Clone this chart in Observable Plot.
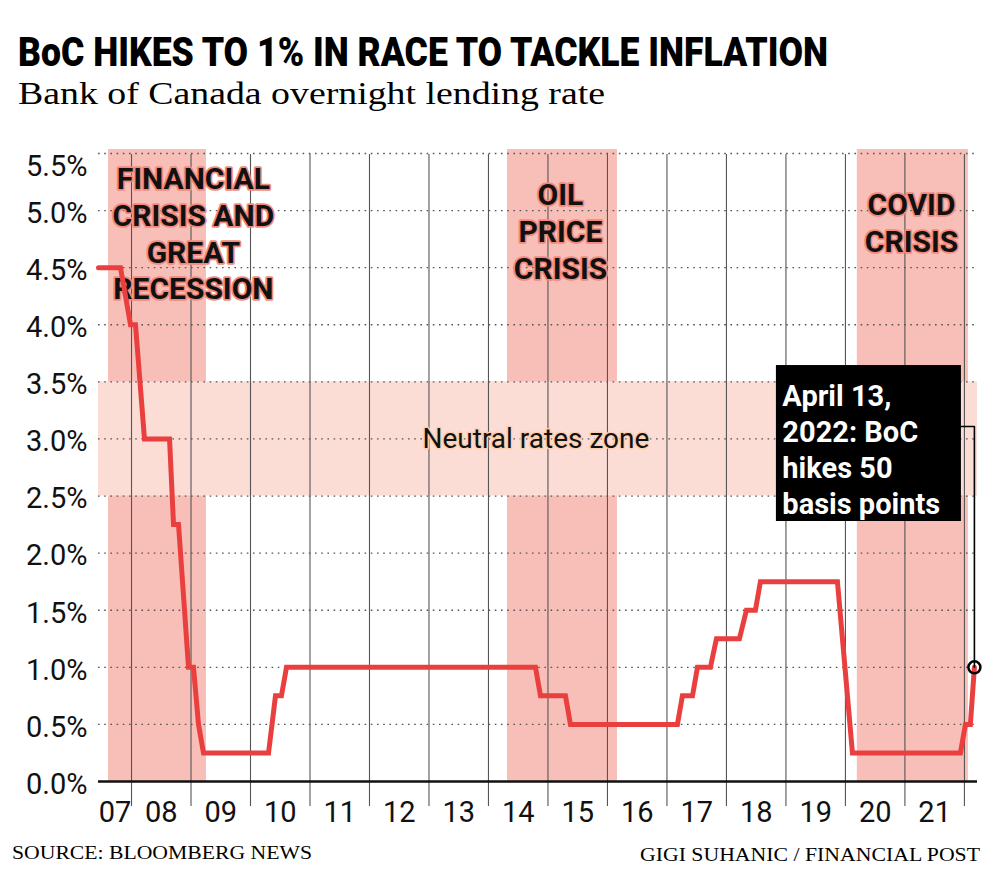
<!DOCTYPE html>
<html><head><meta charset="utf-8">
<script src="https://cdn.jsdelivr.net/npm/d3@7"></script>
<script src="https://cdn.jsdelivr.net/npm/@observablehq/plot@0.6"></script>
<style>
body{margin:0;background:#fff;}
#wrap{position:relative;width:1000px;height:884px;overflow:hidden;background:#fff;}
#head,#foot,#chart{position:absolute;left:0;}
#head{top:0}
#chart{top:130px}
#foot{top:835px}
</style></head><body>
<div id="wrap">
<svg id="head" width="1000" height="130">
  <text x="18" y="66" font-family="Roboto, sans-serif" font-weight="900" font-size="40" textLength="810" lengthAdjust="spacingAndGlyphs" fill="#000">BoC HIKES TO 1% IN RACE TO TACKLE INFLATION</text>
  <text x="18" y="104" font-family="'Liberation Serif', serif" font-size="32" textLength="587" lengthAdjust="spacingAndGlyphs" fill="#000">Bank of Canada overnight lending rate</text>
</svg>
<div id="chart"></div>
<svg id="foot" width="1000" height="49">
  <text x="12" y="24" font-family="'Liberation Serif', serif" font-size="19" textLength="300" lengthAdjust="spacingAndGlyphs" fill="#000">SOURCE: BLOOMBERG NEWS</text>
  <text x="980" y="26" text-anchor="end" font-family="'Liberation Serif', serif" font-size="19" textLength="340" lengthAdjust="spacingAndGlyphs" fill="#000">GIGI SUHANIC / FINANCIAL POST</text>
</svg>
</div>
<script>
// ---- data (decimal years) ----
const dates = [2007.445, 2007.815, 2007.983, 2008.067, 2008.218, 2008.639, 2008.706, 2008.790, 2008.958, 2009.042, 2009.126, 2009.21,
  2010.303, 2010.42, 2010.52, 2010.605, 2014.79, 2014.874, 2015.294, 2015.378, 2017.176, 2017.26, 2017.429, 2017.513,
  2017.731, 2017.832, 2018.218, 2018.336, 2018.487, 2018.571, 2019.866, 2020.118, 2021.933, 2022.017, 2022.10, 2022.168];
const rates = [4.5, 4.5, 4.0, 4.0, 3.0, 3.0, 2.25, 2.25, 1.0, 1.0, 0.5, 0.25,
  0.25, 0.75, 0.75, 1.0, 1.0, 0.75, 0.75, 0.5, 0.5, 0.75, 0.75, 1.0,
  1.0, 1.25, 1.25, 1.5, 1.5, 1.75, 1.75, 0.25, 0.25, 0.5, 0.5, 1.0];

const crisisNames = ["FINANCIAL\nCRISIS AND\nGREAT\nRECESSION", "OIL\nPRICE\nCRISIS", "COVID\nCRISIS"];
const crisisStart = [2007.613, 2014.32, 2020.20];
const crisisEnd = [2009.26, 2016.168, 2022.067];
const crisisLabelX = [2009.04, 2015.21, 2021.11];
const crisisLabelY = [4.81, 4.83, 4.90];

const neutralLow = 2.5, neutralHigh = 3.5;
const neutralLabel = "Neutral rates zone";

const yTicks = [0, 0.5, 1.0, 1.5, 2.0, 2.5, 3.0, 3.5, 4.0, 4.5, 5.0, 5.5];
const yearLines = [2008, 2009, 2010, 2011, 2012, 2013, 2014, 2015, 2016, 2017, 2018, 2019, 2020, 2021, 2022];
const yearLabels = ["07","08","09","10","11","12","13","14","15","16","17","18","19","20","21"];
const labelYears = [2007, 2008, 2009, 2010, 2011, 2012, 2013, 2014, 2015, 2016, 2017, 2018, 2019, 2020, 2021];

const annotationText = "April 13,\n2022: BoC\nhikes 50\nbasis points";

// ---- build ----
const xStart = 2007.445, xEnd = 2022.22;
const series = dates.map((d, i) => ({date: d, rate: rates[i]}));
const crises = crisisNames.map((n, i) => ({name: n, start: crisisStart[i], end: crisisEnd[i], lx: crisisLabelX[i], ly: crisisLabelY[i]}));
const xLab = yearLabels.map((t, i) => ({t, x: (Math.max(labelYears[i], xStart) + labelYears[i] + 1) / 2}));
const last = series[series.length - 1];
const box = {x1: 2018.84, x2: 2021.95, y1: 2.277, y2: 3.643, tx: 2018.94, ty: 3.511, leadY: 3.109};
const leader = [{x: box.x2, y: box.leadY}, {x: last.date, y: box.leadY}, {x: last.date, y: last.rate}];

const red = "#e9403f";
const chart = Plot.plot({
  width: 1000, height: 705,
  marginLeft: 98, marginRight: 23, marginTop: 23, marginBottom: 54,
  x: {domain: [xStart, xEnd], axis: null},
  y: {domain: [0, 5.5], axis: null},
  style: {fontFamily: "Roboto, sans-serif", background: "transparent", overflow: "visible"},
  marks: [
    Plot.rect(crises, {x1: "start", x2: "end", y1: 0, y2: 5.5, insetTop: -4, fill: "#f8bfb9"}),
    Plot.rect([{x1: xStart, x2: xEnd, lo: neutralLow, hi: neutralHigh}], {x1: "x1", x2: "x2", y1: "lo", y2: "hi", fill: "#fbddd6"}),
    Plot.ruleX(yearLines, {stroke: "#555", strokeWidth: 1.1, insetBottom: -25, insetTop: 1}),
    Plot.ruleY(yTicks.filter(d => d > 0), {stroke: "#555", strokeWidth: 1.3, strokeDasharray: "1.6,4.6"}),
    Plot.ruleY([0], {stroke: "#111", strokeWidth: 2.5}),
    Plot.text(yTicks.filter(d => d < 5.5), {y: d => d, frameAnchor: "left", textAnchor: "end", dx: -11, dy: 3, text: d => d.toFixed(1) + "%", fontSize: 29, fill: "#111"}),
    Plot.text([5.5], {y: d => d, frameAnchor: "left", textAnchor: "end", dx: -11, dy: 13, text: d => d.toFixed(1) + "%", fontSize: 29, fill: "#111"}),
    Plot.text(xLab, {x: "x", y: 0, dy: 31, text: "t", fontSize: 29, fill: "#111"}),
    Plot.text([neutralLabel], {x: (xStart + xEnd) / 2 - 0.035, y: (neutralLow + neutralHigh) / 2, text: d => d, fontSize: 28, fill: "#111", stroke: "#fbd0b2", strokeWidth: 3, paintOrder: "stroke"}),
    Plot.text(crises, {x: "lx", y: "ly", text: "name", fontSize: 30, fontWeight: 700, lineHeight: 1.23, fill: "#111", stroke: "#f3897a", strokeWidth: 3.5, paintOrder: "stroke"}),
    Plot.line(series, {x: "date", y: "rate", stroke: red, strokeWidth: 5, strokeLinejoin: "miter", strokeMiterlimit: 2}),
    Plot.rect([box], {x1: "x1", x2: "x2", y1: "y1", y2: "y2", fill: "#000"}),
    Plot.text([annotationText], {x: box.tx, y: box.ty, text: d => d, textAnchor: "start", lineAnchor: "top", fontSize: 29, fontWeight: 700, lineHeight: 1.24, fill: "#fff"}),
    Plot.line(leader, {x: "x", y: "y", stroke: "#000", strokeWidth: 1.6, curve: "linear"}),
    Plot.dot([last], {x: "date", y: "rate", r: 6, stroke: "#000", strokeWidth: 2.5, fill: "none"})
  ]
});
document.getElementById("chart").appendChild(chart);
</script>
</body></html>
